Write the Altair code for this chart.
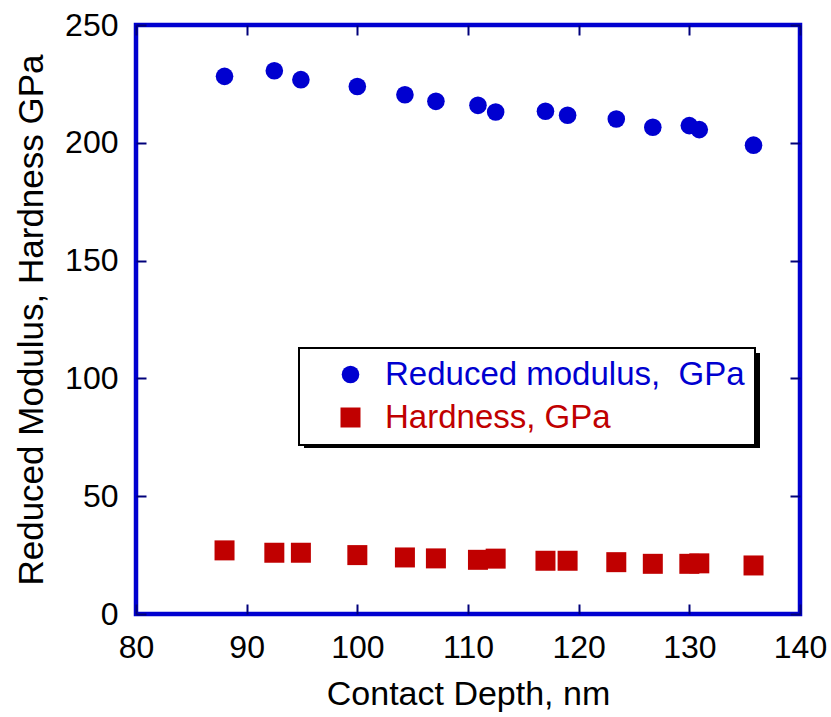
import altair as alt
import pandas as pd

depth = [88.0, 92.5, 94.9, 100.0, 104.3, 107.1, 110.9, 112.5, 117.0, 119.0, 123.4, 126.7, 130.0, 130.9, 135.8]
modulus = [228.2, 230.6, 226.8, 223.9, 220.4, 217.6, 215.9, 213.1, 213.4, 211.7, 210.1, 206.6, 207.3, 205.6, 199.0]
hardness = [27.0, 26.0, 26.0, 25.0, 24.0, 23.6, 23.0, 23.5, 22.6, 22.6, 22.0, 21.3, 21.3, 21.5, 20.6]

s_mod = "Reduced modulus,\u00a0 GPa"
s_hard = "Hardness, GPa"
series_names = [s_mod, s_hard]
x_ticks = [80, 90, 100, 110, 120, 130, 140]
y_ticks = [0, 50, 100, 150, 200, 250]

df = pd.DataFrame({
    "depth": depth + depth,
    "value": modulus + hardness,
    "series": [s_mod] * len(depth) + [s_hard] * len(depth),
})

FONT = "Liberation Sans"
BLUE = "#0000d0"
RED = "#c00000"
TICK = "#00007a"

xs = alt.Scale(domain=[80, 140], nice=False, zero=False)
ys = alt.Scale(domain=[0, 250], nice=False)

points = alt.Chart(df).mark_point(filled=True, opacity=1, strokeWidth=0).encode(
    x=alt.X("depth:Q", scale=xs, axis=alt.Axis(
        values=x_ticks, offset=-10, tickSize=10, tickWidth=2, tickColor=TICK,
        domain=False, grid=False, labelFontSize=32, labelFont=FONT, labelColor="black",
        labelPadding=18, labelFlush=False, labelOverlap=False,
        title="Contact Depth, nm", titleFontSize=34, titleFont=FONT,
        titleFontWeight="normal", titleColor="black", titlePadding=14)),
    y=alt.Y("value:Q", scale=ys, axis=alt.Axis(
        values=y_ticks, offset=-10, tickSize=10, tickWidth=2, tickColor=TICK,
        domain=False, grid=False, labelFontSize=32, labelFont=FONT, labelColor="black",
        labelPadding=18, labelFlush=False, labelOverlap=False,
        title="Reduced Modulus, Hardness GPa", titleFontSize=35, titleFont=FONT,
        titleFontWeight="normal", titleColor="black", titlePadding=15)),
    color=alt.Color("series:N", scale=alt.Scale(domain=series_names, range=[BLUE, RED]),
                    legend=alt.Legend(
                        title=None, orient="none", legendX=163, legendY=323,
                        strokeColor="black", fillColor="white",
                        padding=10, symbolOffset=25, labelOffset=18,
                        symbolSize=330, rowPadding=9,
                        labelFontSize=33, labelFont=FONT, labelLimit=0,
                        labelColor={"expr": "datum.label == 'Hardness, GPa' ? '#c00000' : '#0000d0'"},
                    )),
    shape=alt.Shape("series:N", scale=alt.Scale(domain=series_names, range=["circle", "square"])),
    size=alt.Size("series:N", scale=alt.Scale(domain=series_names, range=[310, 400]), legend=None),
)

frame_axes = alt.Chart(df).mark_point(opacity=0).encode(
    x=alt.X("depth:Q", scale=xs, axis=alt.Axis(
        orient="top", values=x_ticks, offset=-10, tickSize=10, tickWidth=2, tickColor=TICK,
        domain=False, grid=False, labels=False, title=None)),
    y=alt.Y("value:Q", scale=ys, axis=alt.Axis(
        orient="right", values=y_ticks, offset=-10, tickSize=10, tickWidth=2, tickColor=TICK,
        domain=False, grid=False, labels=False, title=None)),
)

shadow = alt.Chart(pd.DataFrame({"a": [0]})).mark_rect(color="black").encode(
    x=alt.value(168), x2=alt.value(624), y=alt.value(328), y2=alt.value(423)
)

chart = alt.layer(shadow, points, frame_axes).resolve_axis(
    x="independent", y="independent"
).properties(
    width=664, height=589,
    autosize=alt.AutoSizeParams(type="none"),
    padding={"left": 136, "top": 25, "right": 31, "bottom": 103},
    background="white",
).configure_view(
    stroke=BLUE, strokeWidth=4.5
).configure_legend(
    strokeWidth=2
)

chart.save("out.html", embed_options={"renderer": "svg", "actions": False})
